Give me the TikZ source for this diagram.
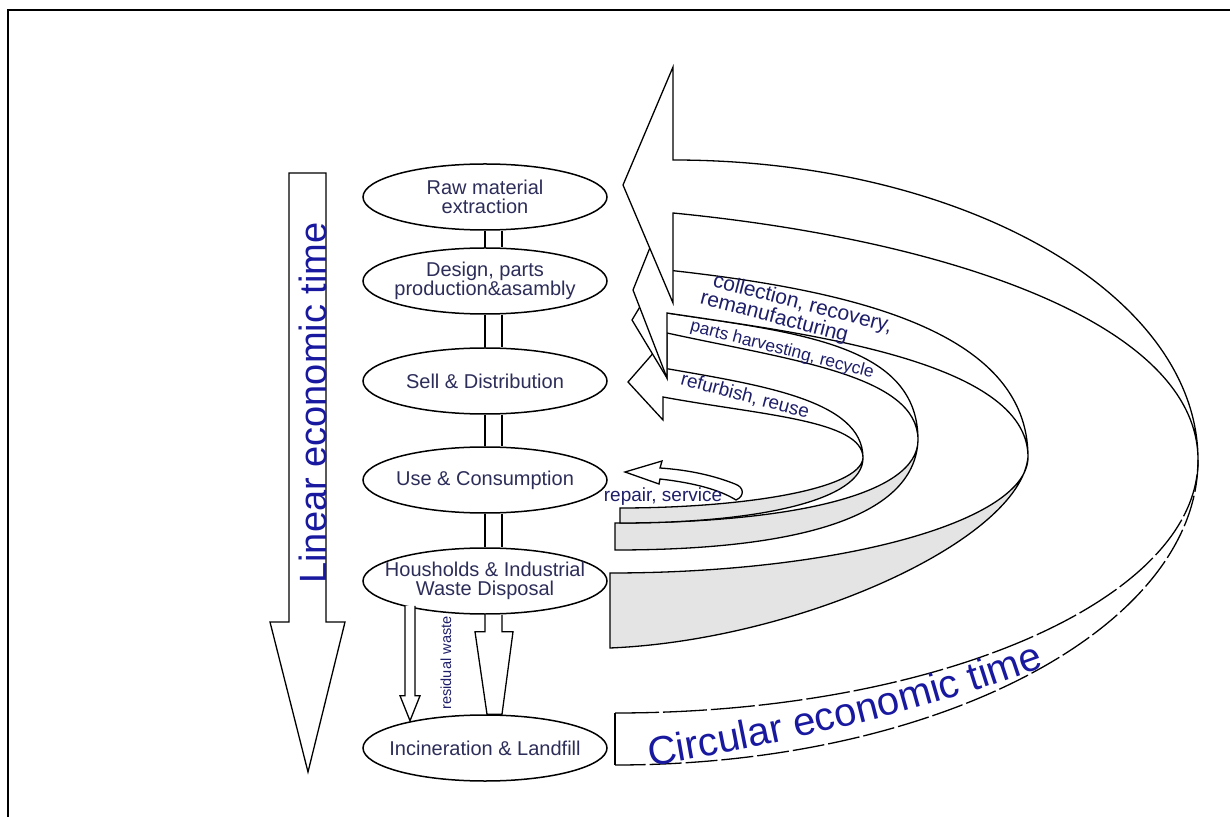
\documentclass[tikz,border=0pt]{standalone}
\usepackage{fontspec}
\setmainfont{Liberation Sans}
\usetikzlibrary{shapes.geometric,calc,decorations.text}

\definecolor{stagetext}{RGB}{45,45,90}
\definecolor{loopblue}{RGB}{30,30,105}
\definecolor{timeblue}{RGB}{25,25,160}
\definecolor{backside}{RGB}{228,228,228}

\tikzset{
	stage/.style={draw, ellipse, fill=white, line width=0.75pt, minimum width=122pt,
		minimum height=33pt, inner xsep=-10pt, inner ysep=0pt, align=center,
		text=stagetext, font=\fontsize{10}{9.5}\selectfont},
	pipe/.style={double distance=7.8pt, line width=0.7pt},
	band/.style={draw, fill=white, line width=0.65pt},
	backband/.style={band, fill=backside},
	looplabel/.style={text=loopblue, inner sep=0pt},
}

\begin{document}
\begin{tikzpicture}[x=0.5pt, y=-0.5pt, line width=0.65pt]
	\useasboundingbox (0,0) rectangle (1230,817);
	\draw[line width=1.2pt] (8,817) -- (8,10) -- (1230,10);

	% linear time
	\draw[band] (289,173) -- (326,173) -- (326,622) -- (345,622) -- (308,772) -- (270,622) -- (289,622) -- cycle;
	\node[rotate=90, anchor=base, inner sep=0pt, text=timeblue, font=\fontsize{19}{19}\selectfont] (lineartime) at (326,403) {Linear economic time};

	% stages
	\node[stage] (raw) at (485,197) {Raw material\\extraction};
	\node[stage] (design) at (485,281) {Design, parts\\production\&asambly};
	\node[stage] (sell) at (485,381) {Sell \& Distribution};
	\node[stage] (use) at (485,480) {Use \& Consumption};
	\node[stage] (hh) at (485,581) {Housholds \& Industrial\\Waste Disposal};
	\node[stage] (inc) at (485,748) {Incineration \& Landfill};

	\foreach \a/\b in {raw/design, design/sell, sell/use, use/hh}
		\draw[pipe] ([xshift=4.25pt]\a.south) -- ([xshift=4.25pt]\b.north);

	\draw[band] (hh.south) -- ++(0,17) -- ++(-10,0) -- ($(inc.north)+(2,0)$) -- ++(15,0)
		-- ($(hh.south)+(28,17)$) -- ++(-11,0) -- ($(hh.south)+(17,0)$);
	\draw[band] ($(hh.south)+(-80,-9)$) -- ++(0,90) -- ++(-5,0) -- ++(10,25) -- ++(10,-25) -- ++(-5,0) -- ++(0,-90);
	\node[rotate=90, anchor=base, inner sep=0pt, text=loopblue, font=\fontsize{7.3}{7.3}\selectfont] (residual) at (451,663) {residual waste};

	% circular time, lower half
	\fill[white] (1198,460) .. controls (1198,628) and (937,765) .. (615,765) -- (615,713) .. controls (937,713) and (1198,600) .. (1198,460) -- cycle;
	\draw[dash pattern=on 16pt off 2pt] (1198,460) .. controls (1198,628) and (937,765) .. (615,765);
	\draw[dash pattern=on 22pt off 2pt] (615,713) .. controls (937,713) and (1198,600) .. (1198,460);
	\draw (615,713) -- (615,765);
	\path[decorate, decoration={text along path, text color=timeblue,
		text={|\fontsize{20}{20}\selectfont|Circular economic time}}]
		(650,766) .. controls (780,745) and (930,710) .. (1058,662);

	% back sides
	\draw[backband] (1028,457) .. controls (1028,521) and (841,573) .. (610,573) -- (610,648) .. controls (800,640) and (1020,540) .. (1028,457) -- cycle;
	\draw[backband] (918,440) .. controls (918,495) and (790,523) .. (615,523) -- (615,550) .. controls (790,550) and (915,520) .. (918,440) -- cycle;
	\draw[backband] (863,458) .. controls (860,490) and (740,508) .. (620,508) -- (620,523) .. controls (760,523) and (863,500) .. (863,458) -- cycle;

	% front sides with heads
	\draw[band] (663,368) -- (663,342) -- (628,382) -- (663,420) -- (663,397) .. controls (760,415) and (863,420) .. (863,458) .. controls (863,400) and (760,385) .. (663,368) -- cycle;
	\draw[band] (667,313) -- (667,262) -- (632,320) -- (667,378) -- (667,333) .. controls (790,360) and (918,375) .. (918,440) .. controls (918,345) and (800,333) .. (667,313) -- cycle;
	\draw[band] (667,270) -- (667,205) -- (633,290) -- (667,378) -- (667,313) .. controls (800,333) and (1028,360) .. (1028,457) .. controls (1028,330) and (850,290) .. (667,270) -- cycle;
	\draw[band] (673,160) -- (673,67) -- (623,185) -- (673,303) -- (673,213) .. controls (950,240) and (1198,324) .. (1198,460) .. controls (1198,294) and (963,160) .. (673,160) -- cycle;

	% repair loop
	\draw[band] (660,468) -- (662,461) -- (625,472) -- (659,484) -- (660,479) .. controls (695,483) and (720,490) .. (736,500) .. controls (745,496) and (744,487) .. (735,484) .. controls (715,476) and (690,470) .. (660,468) -- cycle;

	\node[looplabel, rotate=-14.5, align=left, font=\fontsize{10.5}{10}\selectfont] (collect) at (800,314) {collection, recovery,\\\hspace*{-4pt}remanufacturing};
	\node[looplabel, rotate=-14.5, font=\fontsize{8.7}{8.7}\selectfont] (parts) at (782,350) {parts harvesting, recycle};
	\node[looplabel, rotate=-15, font=\fontsize{9.5}{9.5}\selectfont] (refurb) at (745,396) {refurbish, reuse};
	\node[looplabel, font=\fontsize{9.5}{9.5}\selectfont] (repair) at (663,497) {repair, service};
\end{tikzpicture}
\end{document}
